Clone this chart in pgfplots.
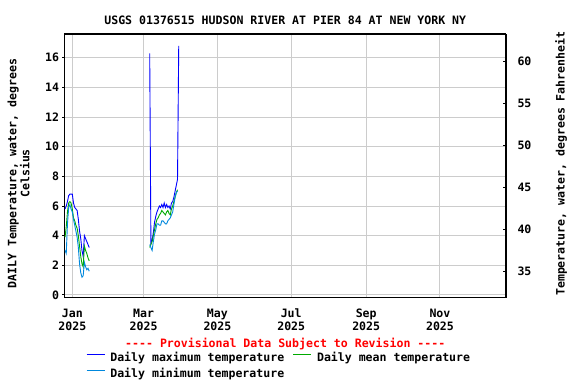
\documentclass[border=0pt]{standalone}
\usepackage{pgfplots}
\pgfplotsset{compat=1.18}
\usepackage{fontspec}
\setmonofont{DejaVu Sans Mono}
\definecolor{tmax}{RGB}{0,0,255}
\definecolor{tmean}{RGB}{0,170,0}
\definecolor{tmin}{RGB}{0,136,221}
\definecolor{gridc}{RGB}{204,204,204}
\newcommand\lf{\fontsize{11.6}{13}\selectfont\ttfamily\bfseries}
\begin{document}
\begin{tikzpicture}
\useasboundingbox (-64.5bp,-86.5bp) rectangle (511.5bp,297.5bp);
\begin{axis}[
  scale only axis, width=441.5bp, height=263.5bp,
  at={(0,0)}, anchor=south west,
  xmin=-6.45, xmax=358.6, ymin=-0.17, ymax=17.6,
  axis y line*=left,
  xtick={0,59,120,181,243,304},
  xticklabels={Jan\\2025,Mar\\2025,May\\2025,Jul\\2025,Sep\\2025,Nov\\2025},
  xticklabel style={align=center, font=\lf, yshift=-6bp},
  ytick={0,2,...,16},
  yticklabel style={font=\lf},
  grid=major, major grid style={gridc, line width=1bp},
  xtick style={draw=none},
  ytick style={black, line width=1bp},
  tick align=outside, major tick length=2bp,
  axis line style={line width=1.2bp},
  /pgf/number format/assume math mode=true,
  ylabel={DAILY Temperature, water, degrees\\Celsius},
  ylabel style={font=\lf, align=center, at={(axis description cs:-0.104,0.471)}, anchor=center},
  legend columns=2,
  legend cell align=left,
  legend style={at={(axis description cs:0.0487,-0.2097)}, anchor=north west,
    draw=none, fill=none, inner sep=0pt, outer sep=0pt, font=\lf, row sep=5bp,
    nodes={inner sep=0pt, text height=8.5bp, text depth=2.5bp},
    /tikz/every odd column/.append style={column sep=5bp},
    /tikz/every even column/.append style={column sep=8.5bp}},
  legend image code/.code={\draw[#1, line width=1.3bp] (0bp,4bp) -- (18bp,4bp);},
]
% winter segment
\addplot[color=tmax, line width=0.9bp] coordinates {
(-6,5.8)(-5,6.0)(-4,6.3)(-3,6.7)(-2,6.8)(-1,6.8)(0,6.8)(1,6.2)(2,5.9)(3,5.8)(4,5.7)
(5,5.1)(6,4.3)(7,3.8)(8,3.0)(9,2.6)(10,4.0)(11,3.8)(12,3.6)(13,3.4)(14,3.2)};
\addlegendentry{Daily maximum temperature}
\addplot[color=tmean, line width=0.9bp] coordinates {
(-6,3.9)(-5,4.6)(-4,5.6)(-3,6.2)(-2,6.3)(-1,6.2)(0,5.8)(1,5.2)(2,5.0)(3,4.7)(4,4.5)
(5,4.0)(6,3.3)(7,2.6)(8,2.1)(9,1.9)(10,3.3)(11,3.0)(12,2.8)(13,2.5)(14,2.3)};
\addlegendentry{Daily mean temperature}
\addplot[color=tmin, line width=0.9bp] coordinates {
(-6,3.0)(-5,2.8)(-4,4.8)(-3,5.9)(-2,6.1)(-1,5.8)(0,5.6)(1,5.1)(2,4.7)(3,4.3)(4,3.9)
(5,3.2)(6,2.1)(7,1.5)(8,1.2)(9,1.3)(10,2.2)(11,1.9)(12,1.7)(13,1.8)(14,1.6)};
\addlegendentry{Daily minimum temperature}
% spring segment
\addplot[color=tmax, line width=0.9bp, forget plot] coordinates {
(64,16.3)(65,3.5)(66,3.7)(67,4.2)(68,4.9)(69,5.3)(70,5.6)(71,5.8)(72,6.0)(73,5.9)
(74,6.1)(75,5.9)(76,6.2)(77,5.9)(78,6.1)(79,5.9)(80,6.0)(81,5.8)(82,6.2)(83,6.3)
(84,6.6)(85,7.0)(86,7.4)(87,7.8)(88,16.8)};
\addplot[color=tmean, line width=0.9bp, forget plot] coordinates {
(64,3.2)(65,3.4)(66,3.6)(67,4.0)(68,4.4)(69,4.8)(70,5.1)(71,5.2)(72,5.4)(73,5.5)
(74,5.7)(75,5.6)(76,5.5)(77,5.4)(78,5.6)(79,5.7)(80,5.5)(81,5.4)(82,5.8)(83,6.0)
(84,6.3)(85,6.6)(86,6.9)(87,7.1)};
\addplot[color=tmin, line width=0.9bp, forget plot] coordinates {
(64,3.4)(65,3.2)(66,3.0)(67,3.6)(68,4.1)(69,4.4)(70,4.8)(71,4.8)(72,4.7)(73,4.7)
(74,5.0)(75,5.0)(76,4.9)(77,4.8)(78,4.8)(79,5.0)(80,5.1)(81,5.2)(82,5.4)(83,5.6)
(84,6.1)(85,6.6)(86,6.9)(87,7.0)};
\end{axis}
\begin{axis}[
  scale only axis, width=441.5bp, height=263.5bp,
  at={(0,0)}, anchor=south west,
  xmin=-6.45, xmax=358.6, ymin=31.9, ymax=63.25,
  axis y line*=right, axis x line=none,
  ytick={35,40,...,60},
  yticklabel style={font=\lf, xshift=8bp},
  tick align=inside, major tick length=3bp,
  ytick style={black, line width=1bp},
  axis line style={line width=1.2bp},
  /pgf/number format/assume math mode=true,
  ylabel={Temperature, water, degrees Fahrenheit},
  ylabel style={font=\lf, at={(axis description cs:1.1246,0.508)}, anchor=center},
]
\end{axis}
\node[font=\lf, anchor=base] at (220.75bp,273bp) {USGS 01376515 HUDSON RIVER AT PIER 84 AT NEW YORK NY};
\node[font=\lf, anchor=base, text=red] at (220.75bp,-49.75bp) {---- Provisional Data Subject to Revision ----};
\end{tikzpicture}
\end{document}
